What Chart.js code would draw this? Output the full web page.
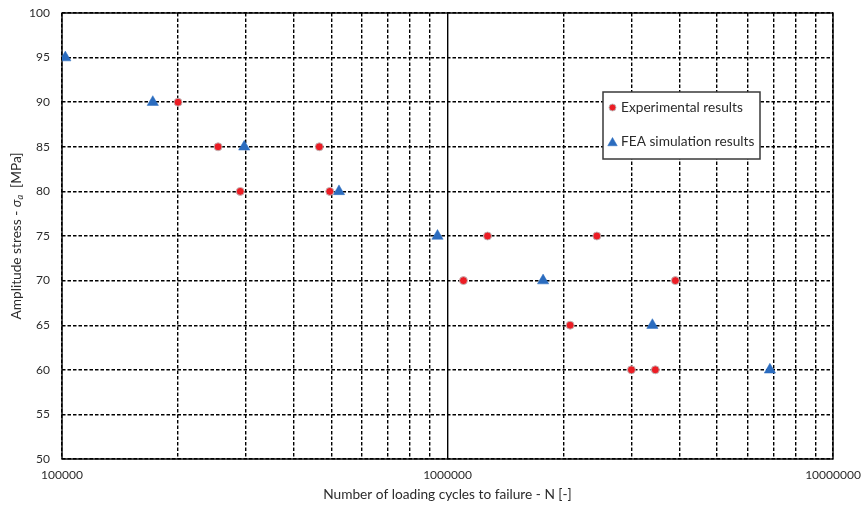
<!DOCTYPE html>
<html>
<head>
<meta charset="utf-8">
<title>S-N curve</title>
<script src="https://cdn.jsdelivr.net/npm/chart.js@4/dist/chart.umd.min.js"></script>
<style>
  html, body { margin: 0; padding: 0; background: #ffffff; }
  #wrap { width: 863px; height: 510px; }
</style>
</head>
<body>
<div id="wrap"><canvas id="chart" width="863" height="510"></canvas></div>
<script>
// Fatigue test data: cycles to failure vs. stress amplitude
const experimentalCycles = [200000, 254000, 290000, 465000, 495000, 1100000, 1270000, 2080000, 2440000, 3000000, 3460000, 3900000];
const experimentalStress = [90, 85, 80, 85, 80, 70, 75, 65, 75, 60, 60, 70];

const feaCycles = [102000, 172000, 297000, 523000, 942000, 1770000, 3400000, 6860000];
const feaStress = [95, 90, 85, 80, 75, 70, 65, 60];

const seriesNames = ['Experimental results', 'FEA simulation results'];
const xLabelValues = [100000, 1000000, 10000000];
const yRange = [50, 100];
const yStep = 5;

const FONT = 'Lato, "Open Sans", sans-serif';
const TEXT_COLOR = '#2b2b2b';
const GRID_DASH = [3.5, 2];

function toPoints(xs, ys) {
  return xs.map((x, i) => ({ x: x, y: ys[i] }));
}

// Plot frame, drawn over the grid but under the markers
const framePlugin = {
  id: 'frame',
  beforeDatasetsDraw(chart) {
    const { ctx, chartArea: a } = chart;
    ctx.save();
    ctx.strokeStyle = '#000000';
    ctx.lineWidth = 1.4;
    ctx.setLineDash([]);
    ctx.strokeRect(a.left, a.top, a.right - a.left, a.bottom - a.top);
    ctx.restore();
  }
};

// Rotated y-axis title with italic sigma and subscript a
const yTitlePlugin = {
  id: 'yTitle',
  afterDraw(chart) {
    const { ctx, chartArea: a } = chart;
    const parts = [
      { t: 'Amplitude stress - ', f: '13.7px ' + FONT, dy: 0 },
      { t: 'σ', f: 'italic 13.7px ' + FONT, dy: 0 },
      { t: 'a', f: 'italic 9px ' + FONT, dy: 3.5 },
      { t: '  [MPa]', f: '13.7px ' + FONT, dy: 0 }
    ];
    ctx.save();
    let total = 0;
    parts.forEach(p => { ctx.font = p.f; p.w = ctx.measureText(p.t).width; total += p.w; });
    ctx.translate(17, (a.top + a.bottom) / 2);
    ctx.rotate(-Math.PI / 2);
    ctx.fillStyle = TEXT_COLOR;
    ctx.textBaseline = 'middle';
    ctx.textAlign = 'left';
    let x = -total / 2;
    parts.forEach(p => {
      ctx.font = p.f;
      ctx.fillText(p.t, x, p.dy);
      x += p.w;
    });
    ctx.restore();
  }
};

// Boxed legend inside the plot area
const boxLegendPlugin = {
  id: 'boxLegend',
  afterDatasetsDraw(chart) {
    const { ctx } = chart;
    const box = { x: 603, y: 92, w: 157, h: 67 };
    ctx.save();
    ctx.fillStyle = '#ffffff';
    ctx.fillRect(box.x, box.y, box.w, box.h);
    ctx.strokeStyle = '#3a3a3a';
    ctx.lineWidth = 1.5;
    ctx.strokeRect(box.x, box.y, box.w, box.h);
    const rows = [box.y + 15.5, box.y + 50];
    chart.data.datasets.forEach((ds, i) => {
      const cy = rows[i];
      const style = {
        pointStyle: ds.pointStyle,
        radius: i === 0 ? 3.5 : 5.5,
        rotation: 0,
        borderWidth: ds.borderWidth
      };
      ctx.fillStyle = ds.backgroundColor;
      ctx.strokeStyle = ds.borderColor;
      ctx.lineWidth = ds.borderWidth;
      Chart.helpers.drawPoint(ctx, style, box.x + 9.5, cy + (i === 1 ? 1 : 0));
      ctx.fillStyle = TEXT_COLOR;
      ctx.font = '13.7px ' + FONT;
      ctx.textBaseline = 'middle';
      ctx.textAlign = 'left';
      ctx.fillText(ds.label, box.x + 18, cy);
    });
    ctx.restore();
  }
};

function isWholeMantissa(v) {
  const m = v / Math.pow(10, Math.floor(Math.log10(v) + 1e-9));
  return Math.abs(m - Math.round(m)) < 1e-6;
}

new Chart(document.getElementById('chart'), {
  type: 'scatter',
  data: {
    datasets: [
      {
        label: seriesNames[0],
        data: toPoints(experimentalCycles, experimentalStress),
        pointStyle: 'circle',
        pointRadius: 4,
        pointHoverRadius: 4,
        backgroundColor: '#ec1c24',
        borderColor: 'rgba(190,190,190,0.9)',
        borderWidth: 1
      },
      {
        label: seriesNames[1],
        data: toPoints(feaCycles, feaStress),
        pointStyle: 'triangle',
        pointRadius: 6.5,
        pointHoverRadius: 6.5,
        backgroundColor: '#2b6cbf',
        borderColor: '#2b6cbf',
        borderWidth: 0.5
      }
    ]
  },
  options: {
    responsive: false,
    animation: false,
    events: [],
    layout: { padding: { left: 0, top: 13, right: 30, bottom: 0 } },
    plugins: {
      legend: { display: false },
      tooltip: { enabled: false }
    },
    scales: {
      x: {
        type: 'logarithmic',
        min: xLabelValues[0],
        max: xLabelValues[xLabelValues.length - 1],
        afterBuildTicks(scale) {
          scale.ticks = scale.ticks.filter(t => isWholeMantissa(t.value));
        },
        afterFit(scale) {
          scale.height = 51;
          scale.paddingLeft = 0;
          scale.paddingRight = 0;
        },
        grid: {
          color: '#000000',
          lineWidth: 1.4,
          drawTicks: false
        },
        border: {
          display: false,
          dash: (ctx) => (ctx.tick && ctx.tick.value === xLabelValues[1]) ? [] : GRID_DASH
        },
        ticks: {
          autoSkip: false,
          maxRotation: 0,
          padding: 9,
          color: TEXT_COLOR,
          font: { family: FONT, size: 12 },
          callback(value) {
            return xLabelValues.includes(value) ? String(value) : '';
          }
        },
        title: {
          display: true,
          text: 'Number of loading cycles to failure - N [-]',
          color: TEXT_COLOR,
          font: { family: FONT, size: 13.7 },
          padding: { top: 4, bottom: 7 }
        }
      },
      y: {
        min: yRange[0],
        max: yRange[1],
        afterFit(scale) {
          scale.width = 62;
          scale.paddingTop = 0;
          scale.paddingBottom = 0;
        },
        grid: {
          color: '#000000',
          lineWidth: 1.4,
          drawTicks: false
        },
        border: { display: false, dash: GRID_DASH },
        ticks: {
          stepSize: yStep,
          padding: 12,
          color: TEXT_COLOR,
          font: { family: FONT, size: 12 }
        },
        title: { display: false }
      }
    }
  },
  plugins: [framePlugin, boxLegendPlugin, yTitlePlugin]
});
</script>
</body>
</html>
